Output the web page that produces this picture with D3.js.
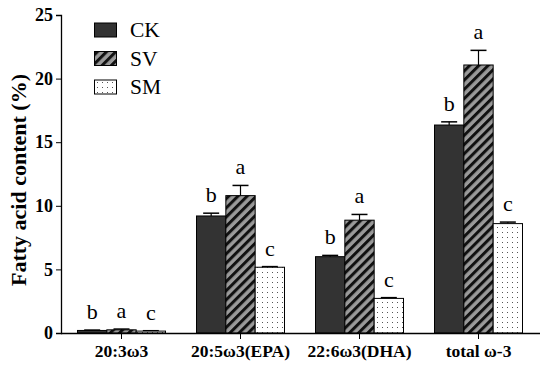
<!DOCTYPE html>
<html>
<head>
<meta charset="utf-8">
<script src="https://cdn.jsdelivr.net/npm/d3@7"></script>
<style>
body { margin: 0; background: #fff; }
</style>
</head>
<body>
<script>
var w = 550;
var h = 366;

var categories = ["20:3\u03c93", "20:5\u03c93(EPA)", "22:6\u03c93(DHA)", "total \u03c9-3"];
var series = ["CK", "SV", "SM"];
var ckValues = [0.2, 9.2, 6.0, 16.35];
var svValues = [0.25, 10.8, 8.87, 21.07];
var smValues = [0.15, 5.17, 2.72, 8.6];
var ckErrors = [0.03, 0.22, 0.1, 0.25];
var svErrors = [0.06, 0.8, 0.45, 1.15];
var smErrors = [0.03, 0.05, 0.06, 0.12];
var ckLetters = ["b", "b", "b", "b"];
var svLetters = ["a", "a", "a", "a"];
var smLetters = ["c", "c", "c", "c"];
var yTicks = [0, 5, 10, 15, 20, 25];

var values = [ckValues, svValues, smValues];
var errors = [ckErrors, svErrors, smErrors];
var letters = [ckLetters, svLetters, smLetters];

var serif = "'Liberation Serif', 'Times New Roman', serif";

var svg = d3.select("body").append("svg")
    .attr("width", w)
    .attr("height", h);

var defs = svg.append("defs");

// diagonal stripes for SV
var stripe = defs.append("pattern")
    .attr("id", "stripe")
    .attr("patternUnits", "userSpaceOnUse")
    .attr("width", 6.5)
    .attr("height", 6.5)
    .attr("patternTransform", "rotate(45)");
stripe.append("rect").attr("width", 6.5).attr("height", 6.5).attr("fill", "#9a9a9a");
stripe.append("rect").attr("width", 3).attr("height", 6.5).attr("fill", "#111");

// dots for SM
var dots = defs.append("pattern")
    .attr("id", "dots")
    .attr("patternUnits", "userSpaceOnUse")
    .attr("width", 5)
    .attr("height", 5);
dots.append("rect").attr("width", 5).attr("height", 5).attr("fill", "#fff");
dots.append("rect").attr("x", 2).attr("y", 2).attr("width", 1).attr("height", 1).attr("fill", "#555");

var fills = ["#333333", "url(#stripe)", "url(#dots)"];

var x0 = d3.scaleBand().domain(categories).range([62, 538]);
var groupW = 88;
var x1 = d3.scaleBand().domain(series).range([0, groupW]);
var y = d3.scaleLinear().domain([0, 25]).range([333, 15]);

var g = svg.append("g");

series.forEach(function(s, si) {
    categories.forEach(function(c, ci) {
        var bx = x0(c) + (x0.bandwidth() - groupW) / 2 + x1(s);
        var bw = x1.bandwidth();
        var v = values[si][ci];
        var e = errors[si][ci];
        var cx = bx + bw / 2;
        // error bar
        g.append("line")
            .attr("x1", cx).attr("x2", cx)
            .attr("y1", y(v)).attr("y2", y(v + e))
            .attr("stroke", "#000").attr("stroke-width", 1.2);
        g.append("line")
            .attr("x1", cx - 8).attr("x2", cx + 8)
            .attr("y1", y(v + e)).attr("y2", y(v + e))
            .attr("stroke", "#000").attr("stroke-width", 1.5);
        g.append("rect")
            .attr("x", bx)
            .attr("y", y(v))
            .attr("width", bw)
            .attr("height", y(0) - y(v))
            .attr("fill", fills[si])
            .attr("stroke", "#000")
            .attr("stroke-width", 1);
        g.append("text")
            .attr("x", cx)
            .attr("y", y(v + e) - 11)
            .attr("text-anchor", "middle")
            .attr("font-family", serif)
            .attr("font-size", 22)
            .text(letters[si][ci]);
    });
});

// axes
var yAxis = d3.axisLeft(y).tickValues(yTicks).tickSize(5).tickPadding(3);
svg.append("g")
    .attr("transform", "translate(61,0)")
    .call(yAxis)
    .call(function(a) {
        a.select(".domain").attr("stroke-width", 1.3);
        a.selectAll("text")
            .attr("font-family", serif)
            .attr("font-weight", "bold")
            .attr("font-size", 18)
            .attr("fill", "#000");
    });

var xAxis = d3.axisBottom(x0).tickSize(6).tickPadding(6).tickSizeOuter(0);
svg.append("g")
    .attr("transform", "translate(0,333)")
    .call(xAxis)
    .call(function(a) {
        a.select(".domain").attr("stroke-width", 1.3).attr("d", "M61,0.5H540");
        a.selectAll("text")
            .attr("font-family", serif)
            .attr("font-weight", "bold")
            .attr("font-size", 17.5)
            .attr("fill", "#000");
    });

svg.append("text")
    .attr("transform", "translate(26,180) rotate(-90)")
    .attr("text-anchor", "middle")
    .attr("font-family", serif)
    .attr("font-weight", "bold")
    .attr("font-size", 22)
    .text("Fatty acid content (%)");

// legend
var legend = svg.append("g");
series.forEach(function(s, i) {
    var ly = 23 + i * 28.5;
    legend.append("rect")
        .attr("x", 94.5).attr("y", ly)
        .attr("width", 22).attr("height", 14)
        .attr("fill", fills[i])
        .attr("stroke", "#000").attr("stroke-width", 1);
    legend.append("text")
        .attr("x", 130).attr("y", ly + 14)
        .attr("font-family", serif)
        .attr("font-size", 21.5)
        .text(s);
});
</script>
</body>
</html>
